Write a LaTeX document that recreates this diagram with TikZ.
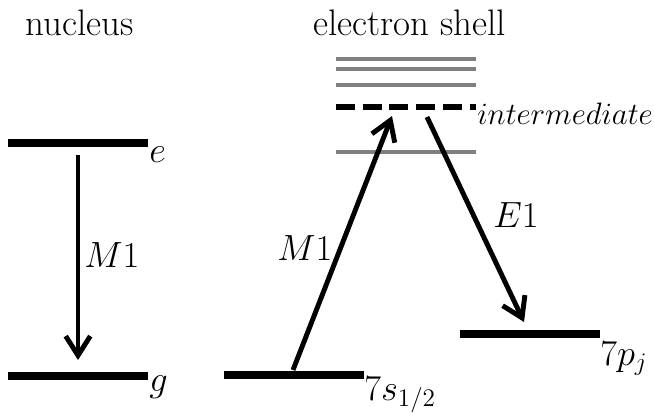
\documentclass[tikz,border=0pt]{standalone}
\usepackage{graphicx}
\usetikzlibrary{arrows.meta}
\begin{document}
\begin{tikzpicture}[x=0.02cm,y=-0.02cm,
  level/.style={line width=4pt},
  sublevel/.style={line width=2.3pt,gray},
  virtual/.style={line width=3.4pt,dash pattern=on 10.8pt off 4.4pt},
  trans/.style={line width=2.8pt,-{Straight Barb[length=11pt,width=14pt]}},
  lbl/.style={inner sep=0pt,anchor=base west,font=\fontsize{21}{25}\selectfont}]
\useasboundingbox (0,0) rectangle (654,414);
\node[lbl] (nuc) at (25,35) {nucleus};
\node[lbl] (shell) at (313,35) {electron shell};
\coordinate (e-l) at (8,143); \coordinate (e-r) at (148,143);
\coordinate (g-l) at (8,376); \coordinate (g-r) at (148,376);
\coordinate (s-l) at (224,375); \coordinate (s-r) at (364,375);
\coordinate (p-l) at (460,334); \coordinate (p-r) at (600,334);
\draw[level] (e-l) -- (e-r);
\draw[level] (g-l) -- (g-r);
\draw[level] (s-l) -- (s-r);
\draw[level] (p-l) -- (p-r);
\foreach \y in {59,69,85,152}
  \draw[sublevel] (336,\y) -- (476,\y);
\coordinate (i-l) at (336,107); \coordinate (i-r) at (476,107);
\draw[virtual] (i-l) -- (i-r);
\node[lbl] (lbl-e) at (149,162) {$e$};
\node[lbl] (lbl-g) at (149,391) {$g$};
\node[lbl] (lbl-s) at (364,400) {$7s_{1/2}$};
\node[lbl] (lbl-p) at (600,365) {$7p_j$};
\node[lbl] (lbl-i) at (477,124) {\scalebox{0.85}{$intermediate$}};
\coordinate (n-top) at (78,155); \coordinate (n-bot) at (78,360);
\draw[trans] (n-top) -- (n-bot);
\node[lbl] (lbl-nm) at (84,267) {$M1$};
\coordinate (up-a) at (293,370); \coordinate (up-b) at (392,116);
\draw[trans] (up-a) -- (up-b);
\node[lbl] (lbl-m) at (277,260) {$M1$};
\coordinate (dn-a) at (427,117); \coordinate (dn-b) at (524,322);
\draw[trans] (dn-a) -- (dn-b);
\node[lbl] (lbl-el) at (493,227) {$E1$};
\end{tikzpicture}
\end{document}
